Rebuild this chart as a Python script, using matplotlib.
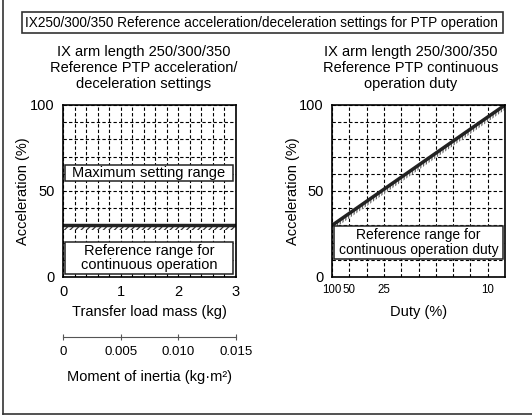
import matplotlib.pyplot as plt
from matplotlib.patches import Rectangle
from matplotlib.lines import Line2D
import numpy as np

plt.rcParams['font.family'] = ['Liberation Sans', 'DejaVu Sans']
plt.rcParams['hatch.linewidth'] = 0.9

# left chart data
mass_ticks = [0, 1, 2, 3]
inertia_ticks = [0, 0.005, 0.010, 0.015]
ref_accel = 30
ref_band_low = 27.5

# right chart data (duty axis is linear in 1/duty)
duty_ticks = [100, 50, 25, 10]
duty_curve = [100, 50, 25, 10, 100 / 11]
accel_curve = [30, 37, 51, 93, 100]


def duty_pos(d):
    return 100.0 / np.asarray(d, dtype=float) - 1


W, H = 532, 416
fig = plt.figure(figsize=(W / 100, H / 100), dpi=100)


def fx(px):
    return px / W


def fy(py):
    return 1 - py / H


def style_axes(ax):
    ax.set_ylim(0, 100)
    ax.set_yticks([0, 50, 100])
    ax.set_yticks(np.arange(0, 101, 10), minor=True)
    ax.grid(which='both', color='black', linestyle=(0, (3, 2)), linewidth=0.8)
    ax.tick_params(which='both', length=0, labelsize=10.5, pad=6)
    for s in ax.spines.values():
        s.set_linewidth(1.2)
    ax.set_axisbelow(True)


# outer frame and title box
fig.add_artist(Line2D([fx(2.5), fx(2.5)], [fy(0), fy(414)], color='#333333', lw=1.2))
fig.add_artist(Line2D([fx(2.5), fx(532)], [fy(414), fy(414)], color='#333333', lw=1.2))
fig.add_artist(Rectangle((fx(22), fy(33)), fx(481), 21 / H, fill=False,
                         edgecolor='#333333', lw=1.2))
fig.text(fx(261), fy(22.5), 'IX250/300/350 Reference acceleration/deceleration settings for PTP operation',
         ha='center', va='center', fontsize=9.8)

# ---- left chart ----
ax1 = fig.add_axes([fx(63), fy(277), fx(173), 172 / H])
style_axes(ax1)
ax1.set_xlim(0, 3)
ax1.set_xticks(mass_ticks)
ax1.set_xticks(np.arange(0, 3.01, 0.2), minor=True)
ax1.fill_between([0, 3], ref_band_low, ref_accel, facecolor='white', edgecolor='#333333',
                 hatch='//////', lw=0, zorder=2)
ax1.axhline(ref_accel, color='#222222', lw=2.5, zorder=2)
ax1.add_patch(Rectangle((0.03, 56), 2.92, 9, facecolor='white', edgecolor='#222222', lw=1.1, zorder=3))
ax1.text(1.49, 60.5, 'Maximum setting range', ha='center', va='center', fontsize=10.5, zorder=4)
ax1.add_patch(Rectangle((0.03, 1.5), 2.92, 19, facecolor='white', edgecolor='#222222', lw=1.1, zorder=3))
ax1.text(1.49, 11, 'Reference range for\ncontinuous operation', ha='center', va='center',
         fontsize=10.5, linespacing=1.05, zorder=4)

fig.text(fx(144), fy(68), 'IX arm length 250/300/350\nReference PTP acceleration/\ndeceleration settings',
         ha='center', va='center', fontsize=10.5, linespacing=1.2)
fig.text(fx(23), fy(191), 'Acceleration (%)', rotation=90, ha='center', va='center', fontsize=10.5)
fig.text(fx(149.5), fy(312), 'Transfer load mass (kg)', ha='center', va='center', fontsize=10.5)

# moment of inertia scale
ax3 = fig.add_axes([fx(63), fy(337), fx(173), 0.001])
ax3.set_xlim(0, 0.015)
ax3.set_xticks(inertia_ticks)
ax3.set_xticklabels(['0', '0.005', '0.010', '0.015'], fontsize=9.5)
ax3.set_yticks([])
for s in ['top', 'left', 'right']:
    ax3.spines[s].set_visible(False)
ax3.spines['bottom'].set_color('#555555')
ax3.tick_params(axis='x', direction='inout', length=5, color='#555555', pad=4)
fig.text(fx(149.5), fy(377), 'Moment of inertia (kg·m²)', ha='center', va='center', fontsize=10.5)

# ---- right chart ----
ax2 = fig.add_axes([fx(332), fy(277), fx(173), 172 / H])
style_axes(ax2)
ax2.set_xlim(0, 10)
ax2.set_xticks(duty_pos(duty_ticks))
ax2.set_xticklabels([str(d) for d in duty_ticks], fontsize=8.3)
ax2.set_xticks(np.arange(0, 11, 1), minor=True)
ax2.tick_params(axis='x', pad=5)
xs = duty_pos(duty_curve)
ax2.fill_between(xs, np.array(accel_curve) - 2.8, accel_curve, facecolor='white',
                 edgecolor='#666666', hatch='||||||', lw=0, zorder=2)
ax2.plot(xs, accel_curve, color='#222222', lw=2.5, zorder=2)
ax2.add_patch(Rectangle((0.13, 10.5), 9.77, 19.3, facecolor='white', edgecolor='#222222', lw=1.1, zorder=3))
ax2.text(5.0, 20, 'Reference range for\ncontinuous operation duty', ha='center', va='center',
         fontsize=10, linespacing=1.1, zorder=4)

fig.text(fx(411), fy(68), 'IX arm length 250/300/350\nReference PTP continuous\noperation duty',
         ha='center', va='center', fontsize=10.5, linespacing=1.2)
fig.text(fx(293), fy(191), 'Acceleration (%)', rotation=90, ha='center', va='center', fontsize=10.5)
fig.text(fx(418.5), fy(312), 'Duty (%)', ha='center', va='center', fontsize=10.5)

fig.savefig('out.png', dpi=100)
